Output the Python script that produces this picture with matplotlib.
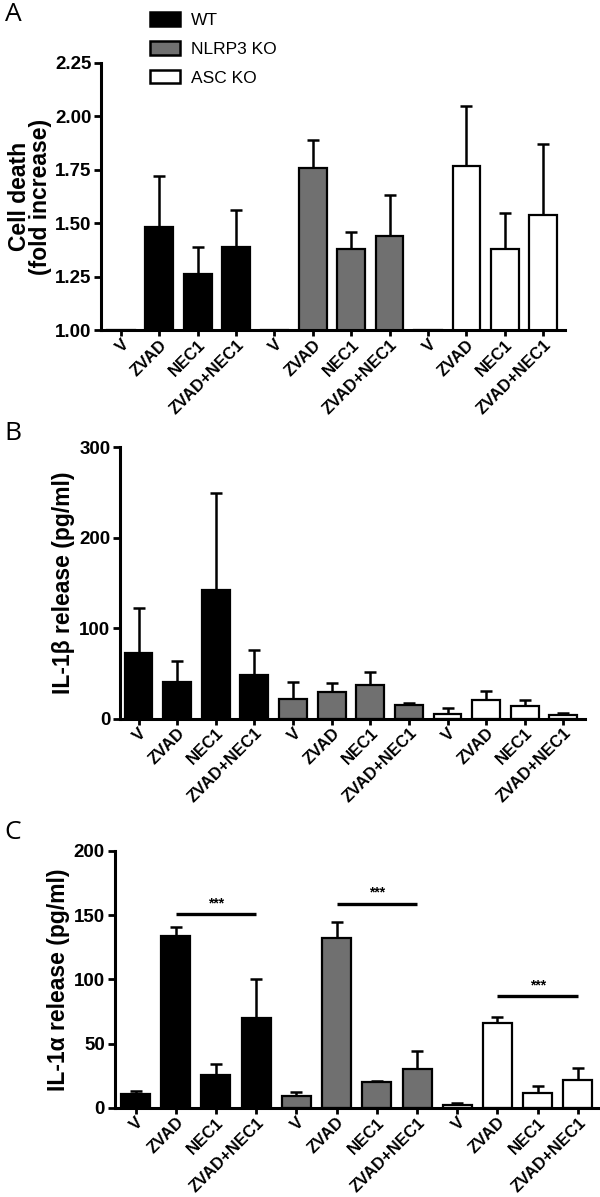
import numpy as np
import matplotlib
matplotlib.use("Agg")
import matplotlib.pyplot as plt
from matplotlib.patches import Patch

plt.rcParams["font.family"] = ["Liberation Sans", "DejaVu Sans"]

treatments = ["V", "ZVAD", "NEC1", "ZVAD+NEC1"]
genotypes = ["WT", "NLRP3 KO", "ASC KO"]
colors = ["#000000", "#707070", "#ffffff"]

# panel A: cell death (fold increase), mean and upper SD
death_wt = [1.00, 1.48, 1.26, 1.39]
death_nlrp3 = [1.00, 1.76, 1.38, 1.44]
death_asc = [1.00, 1.77, 1.38, 1.54]
death_wt_sd = [0, 0.24, 0.13, 0.17]
death_nlrp3_sd = [0, 0.13, 0.08, 0.19]
death_asc_sd = [0, 0.28, 0.17, 0.33]

# panel B: IL-1beta release (pg/ml)
il1b_wt = [72, 40, 142, 48]
il1b_nlrp3 = [22, 29, 37, 15]
il1b_asc = [5, 21, 14, 3.5]
il1b_wt_sd = [50, 24, 107, 28]
il1b_nlrp3_sd = [18, 10, 15, 2]
il1b_asc_sd = [7, 10, 7, 3]

# panel C: IL-1alpha release (pg/ml)
il1a_wt = [11, 134, 26, 70]
il1a_nlrp3 = [9, 132, 20, 30]
il1a_asc = [2.5, 66, 12, 22]
il1a_wt_sd = [2.5, 7, 8, 30]
il1a_nlrp3_sd = [3.5, 13, 1, 14]
il1a_asc_sd = [1.5, 5, 5, 9]

# significance bars in C: (group index, y of line)
sig_groups = [0, 1, 2]
sig_heights = [151, 159, 87]

fig = plt.figure(figsize=(6, 11.97), dpi=100)


def draw_panel(rect, groups, sds, ylim, yticks, ytick_fmt, ylabel, xlim, labelpad):
    ax = fig.add_axes(rect)
    means = np.concatenate(groups)
    errs = np.concatenate(sds)
    cols = np.repeat(colors, len(treatments))
    x = np.arange(len(means))
    ax.bar(x, means, width=0.72, color=cols,
           edgecolor="black", linewidth=1.6, zorder=2)
    m = errs > 0
    ax.errorbar(x[m], means[m], yerr=[np.zeros(m.sum()), errs[m]], fmt="none",
                ecolor="black", elinewidth=1.8, capsize=4.5, capthick=1.8, zorder=1)
    ax.set_xlim(*xlim)
    ax.set_ylim(*ylim)
    ax.set_yticks(yticks)
    ax.set_yticklabels([ytick_fmt.format(t) for t in yticks])
    ax.set_xticks(x)
    ax.set_xticklabels(treatments * len(genotypes), rotation=45, ha="right",
                       rotation_mode="anchor", fontweight="bold", fontsize=12)
    for lab in ax.get_yticklabels():
        lab.set_fontweight("bold")
        lab.set_fontsize(13.5)
    ax.spines["top"].set_visible(False)
    ax.spines["right"].set_visible(False)
    ax.spines["left"].set_linewidth(2.2)
    ax.spines["bottom"].set_linewidth(2.2)
    ax.tick_params(axis="y", direction="out", width=2.0, length=5, pad=2)
    ax.tick_params(axis="x", direction="out", width=2.0, length=4, pad=1)
    ax.set_ylabel(ylabel, fontsize=16.5, fontweight="bold", labelpad=labelpad,
                  linespacing=0.92)
    return ax


axA = draw_panel([0.1683, 0.7243, 0.7733, 0.2231],
                 [death_wt, death_nlrp3, death_asc],
                 [death_wt_sd, death_nlrp3_sd, death_asc_sd],
                 (1.0, 2.25), [1.00, 1.25, 1.50, 1.75, 2.00, 2.25], "{:.2f}",
                 "Cell death\n(fold increase)", (-0.52, 11.57), 2)

axB = draw_panel([0.2, 0.3997, 0.775, 0.2268],
                 [il1b_wt, il1b_nlrp3, il1b_asc],
                 [il1b_wt_sd, il1b_nlrp3_sd, il1b_asc_sd],
                 (0, 300), [0, 100, 200, 300], "{:d}",
                 "IL-1\u03b2 release (pg/ml)", (-0.48, 11.56), 3)

axC = draw_panel([0.191, 0.0744, 0.807, 0.2147],
                 [il1a_wt, il1a_nlrp3, il1a_asc],
                 [il1a_wt_sd, il1a_nlrp3_sd, il1a_asc_sd],
                 (0, 200), [0, 50, 100, 150, 200], "{:d}",
                 "IL-1\u03b1 release (pg/ml)", (-0.52, 11.52), 3)

for g, h in zip(sig_groups, sig_heights):
    x0 = g * 4 + 1
    x1 = g * 4 + 3
    axC.plot([x0, x1], [h, h], color="black", linewidth=2.4, solid_capstyle="butt")
    axC.text((x0 + x1) / 2, h + 3, "***", ha="center", va="bottom",
             fontsize=10, fontweight="bold")

handles = [Patch(facecolor=c, edgecolor="black", linewidth=1.8) for c in colors]
fig.legend(handles, genotypes, loc="upper left", bbox_to_anchor=(0.238, 0.996),
           frameon=False, fontsize=12.5, handlelength=1.75, handleheight=0.85,
           handletextpad=0.6, labelspacing=0.75, borderaxespad=0)

for letter, y in zip(["A", "B", "C"], [0.998, 0.648, 0.315]):
    fig.text(0.008, y, letter, fontsize=19, family="Open Sans", va="top", ha="left")

fig.savefig("out.png", dpi=100)
